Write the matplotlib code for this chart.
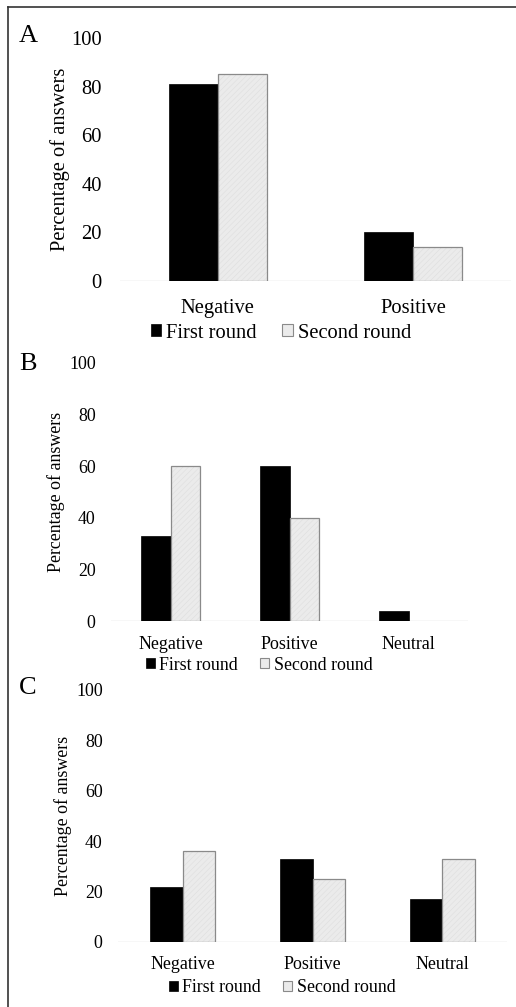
import matplotlib
matplotlib.use("Agg")
import matplotlib.pyplot as plt
from matplotlib.patches import Rectangle
from matplotlib.lines import Line2D
import numpy as np

plt.rcParams['font.family'] = ['Liberation Serif', 'DejaVu Serif']
plt.rcParams['hatch.linewidth'] = 0.4

# ---- data ----
cats_a = ["Negative", "Positive"]
first_a = [81, 20]
second_a = [85, 14]

cats_b = ["Negative", "Positive", "Neutral"]
first_b = [33, 60, 4]
second_b = [60, 40, 0]

cats_c = ["Negative", "Positive", "Neutral"]
first_c = [22, 33, 17]
second_c = [36, 25, 33]

yticks = [0, 20, 40, 60, 80, 100]
series_names = ["First round", "Second round"]
panel_letters = ["A", "B", "C"]

W, H = 516, 1007
fig = plt.figure(figsize=(W / 100, H / 100), dpi=100)

def px_axes(x0, x1, ytop, ybot):
    return fig.add_axes([x0 / W, (H - ybot) / H, (x1 - x0) / W, (ybot - ytop) / H])

GREY_FACE = '#ebebeb'
GREY_EDGE = '#8a8a8a'

def panel(ax, cats, s1, s2, fs, lab_pad, ylab_x, xpad):
    x = np.arange(len(cats))
    w = 0.25
    ax.bar(x - w / 2, s1, width=w, color='black', edgecolor='black', linewidth=0.5)
    ax.bar(x + w / 2, s2, width=w, color=GREY_FACE, edgecolor='#dedede',
           linewidth=0, hatch='//////')
    nz = [v if v > 0 else np.nan for v in s2]
    ax.bar(x + w / 2, nz, width=w, fill=False, edgecolor=GREY_EDGE, linewidth=0.9)
    ax.set_xlim(-0.5, len(cats) - 0.5)
    ax.set_ylim(0, 100)
    ax.set_yticks(yticks)
    ax.set_yticklabels([str(t) for t in yticks], fontsize=fs)
    ax.set_xticks(x)
    ax.set_xticklabels(cats, fontsize=fs)
    ax.tick_params(axis='y', length=0, pad=lab_pad)
    ax.tick_params(axis='x', length=0, pad=xpad)
    for s in ax.spines.values():
        s.set_visible(False)
    ax.axhline(0, color='#d9d9d9', linewidth=1.0, zorder=0)
    ax.set_ylabel("Percentage of answers", fontsize=fs)
    ax.yaxis.set_label_coords(ylab_x, 0.5)
    ax.patch.set_alpha(0)

def legend(fs, cx, cy):
    handles = [Rectangle((0, 0), 1, 1, facecolor='black', edgecolor='black', linewidth=0.5),
               Rectangle((0, 0), 1, 1, facecolor=GREY_FACE, edgecolor=GREY_EDGE, linewidth=0.8)]
    fig.legend(handles, series_names, loc='center', ncol=2,
               bbox_to_anchor=(cx / W, (H - cy) / H), frameon=False,
               fontsize=fs, handlelength=0.5, handleheight=0.5,
               handletextpad=0.25, columnspacing=1.25, borderpad=0, borderaxespad=0)

axA = px_axes(120, 511, 38, 281)
panel(axA, cats_a, first_a, second_a, 14.8, 13, -0.128, 13)
legend(14.8, 281, 333)

axB = px_axes(111, 468, 363, 621)
panel(axB, cats_b, first_b, second_b, 12.9, 11, -0.129, 11)
legend(12.9, 259, 665)

axC = px_axes(118, 507, 690, 942)
panel(axC, cats_c, first_c, second_c, 12.9, 11, -0.118, 10)
legend(12.9, 282, 988)

for letter, ycen in zip(panel_letters, [36, 364, 688]):
    fig.text(19 / W, (H - ycen) / H, letter, fontsize=19, ha='left', va='center')

# outer frame (left and top)
fig.add_artist(Line2D([8 / W, 8 / W], [0, (H - 7) / H], color='#333333', linewidth=1.2))
fig.add_artist(Line2D([8 / W, 1], [(H - 7) / H, (H - 7) / H], color='#333333', linewidth=1.2))

fig.savefig("out.png", dpi=100)
